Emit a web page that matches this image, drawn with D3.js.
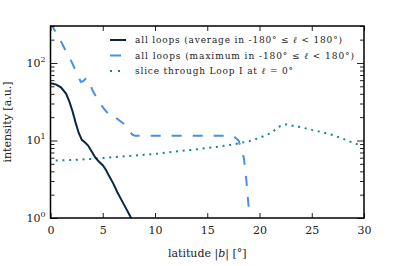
<!DOCTYPE html>
<html>
<head>
<meta charset="utf-8">
<script src="https://cdn.jsdelivr.net/npm/d3@7"></script>
<style>
  body { margin: 0; background: #fff; }
</style>
</head>
<body>
<div class="chart"></div>
<script>
// latitude |b| values and intensities
var avgB   = [0, 0.5, 1, 1.5, 1.8, 2.1, 2.4, 2.7, 3.0, 3.3, 3.6, 4.0, 4.3, 4.6, 5.0, 5.3, 5.6, 6.0, 6.4, 6.8, 7.2, 7.6, 8.0];
var avgVal = [54.7, 53, 48.6, 40, 32, 24, 17, 12.5, 10.2, 9.4, 8.6, 7.0, 6.0, 5.4, 4.8, 4.2, 3.5, 2.8, 2.15, 1.7, 1.35, 1.07, 0.8];

var maxB   = [0, 0.5, 1, 1.5, 2, 2.5, 2.9, 3.1, 3.4, 3.6, 4, 4.5, 5, 5.4, 5.7, 6, 6.5, 7, 7.5, 7.8, 8.1, 17.5, 18.0, 18.5, 18.75, 19.05, 19.2];
var maxVal = [330, 250, 190, 140, 105, 75, 57, 58, 63, 63, 45, 34, 27, 23, 23.5, 21, 18.5, 16.5, 14, 12, 11.5, 11.5, 10, 6, 3, 1.0, 0.8];

var sliceB   = [0.5, 2, 4, 6, 8, 10, 12, 14, 16, 17.5, 19, 20, 21, 21.5, 22, 22.6, 23.3, 24, 25, 26, 27, 28, 29, 29.7];
var sliceVal = [5.5, 5.6, 5.8, 6.1, 6.4, 6.7, 7.2, 7.7, 8.3, 8.9, 9.8, 10.8, 12.3, 13.7, 15.4, 16.2, 15.3, 14.8, 13.7, 12.8, 11.8, 10.5, 9.3, 8.6];

var xTicks = [0, 5, 10, 15, 20, 25, 30];
var yTicks = [1, 10, 100];

var legendLabels = [
  "all loops (average in -180\u00b0 \u2264 ", " < 180\u00b0)",
  "all loops (maximum in -180\u00b0 \u2264 ", " < 180\u00b0)",
  "slice through Loop I at ", " = 0\u00b0"
];

var svgWidth = 405, svgHeight = 266;
var margin = {top: 26, right: 41, bottom: 48, left: 50.5};
var width = svgWidth - margin.left - margin.right;
var height = svgHeight - margin.top - margin.bottom;
var font = "DejaVu Serif";

var svg = d3.select(".chart").append("svg")
    .attr("width", svgWidth)
    .attr("height", svgHeight)
    .attr("font-family", font);

var chart = svg.append("g")
    .attr("transform", "translate(" + margin.left + "," + margin.top + ")");

var x = d3.scaleLinear().domain([0, 30]).range([0, width]);
var y = d3.scaleLog().domain([1, 300]).range([height, 0]);

chart.append("clipPath").attr("id", "clip")
  .append("rect").attr("width", width).attr("height", height);

var line = d3.line()
    .x(function(d) { return x(d[0]); })
    .y(function(d) { return y(d[1]); });

function zip(a, b) {
  return a.map(function(v, i) { return [v, b[i]]; });
}

var plot = chart.append("g").attr("clip-path", "url(#clip)");

plot.append("path")
    .datum(zip(sliceB, sliceVal))
    .attr("fill", "none")
    .attr("stroke", "#128a86")
    .attr("stroke-width", 2)
    .attr("stroke-dasharray", "2,4.7")
    .attr("d", line);

plot.append("path")
    .datum(zip(maxB, maxVal))
    .attr("fill", "none")
    .attr("stroke", "#4a90e2")
    .attr("stroke-width", 2)
    .attr("stroke-dasharray", "10,11")
    .attr("d", line);

plot.append("path")
    .datum(zip(avgB, avgVal))
    .attr("fill", "none")
    .attr("stroke", "#0b2545")
    .attr("stroke-width", 2)
    .attr("d", line);

// minor log ticks
var minor = [];
[1, 10, 100].forEach(function(dec) {
  for (var k = 2; k <= 9; k++) if (dec * k <= 300) minor.push(dec * k);
});

// axes with inward ticks
var bottomAxis = d3.axisBottom(x).tickValues(xTicks).tickSizeInner(-5).tickSizeOuter(0).tickPadding(8);
var topAxis = d3.axisTop(x).tickValues(xTicks).tickSizeInner(-5).tickSizeOuter(0).tickFormat("");
var leftAxis = d3.axisLeft(y).tickValues(yTicks).tickSizeInner(-7).tickSizeOuter(0).tickFormat("");
var rightAxis = d3.axisRight(y).tickValues(yTicks).tickSizeInner(-7).tickSizeOuter(0).tickFormat("");
var leftMinor = d3.axisLeft(y).tickValues(minor).tickSizeInner(-4).tickSizeOuter(0).tickFormat("");
var rightMinor = d3.axisRight(y).tickValues(minor).tickSizeInner(-4).tickSizeOuter(0).tickFormat("");

chart.append("g").attr("class", "x-axis")
    .attr("transform", "translate(0," + height + ")").call(bottomAxis);
chart.append("g").call(topAxis);
chart.append("g").call(leftAxis);
chart.append("g").call(leftMinor);
chart.append("g").attr("transform", "translate(" + width + ",0)").call(rightAxis);
chart.append("g").attr("transform", "translate(" + width + ",0)").call(rightMinor);

chart.selectAll(".domain").remove();
chart.selectAll("g").attr("font-family", font);
chart.selectAll(".tick line").attr("stroke", "#222").attr("stroke-width", 1);
chart.selectAll(".x-axis .tick text")
    .attr("fill", "#222")
    .attr("font-size", 11);

chart.append("rect")
    .attr("width", width).attr("height", height)
    .attr("fill", "none").attr("stroke", "#000").attr("stroke-width", 1.5);

// y tick labels as 10^n
yTicks.forEach(function(v) {
  var t = chart.append("text")
      .attr("x", -5)
      .attr("y", y(v) + 4)
      .attr("text-anchor", "end")
      .attr("fill", "#222")
      .attr("font-size", 11);
  t.append("tspan").text("10");
  t.append("tspan").attr("dy", -5).attr("font-size", 8).text(Math.round(Math.log10(v)));
});

// axis titles
svg.append("text")
    .attr("transform", "translate(11," + (margin.top + height / 2) + ") rotate(-90)")
    .attr("text-anchor", "middle")
    .attr("fill", "#222")
    .attr("font-size", 11)
    .text("intensity [a.u.]");

var xt = svg.append("text")
    .attr("x", margin.left + width / 2)
    .attr("y", 257)
    .attr("text-anchor", "middle")
    .attr("fill", "#222")
    .attr("font-size", 11);
xt.append("tspan").text("latitude |");
xt.append("tspan").attr("font-style", "italic").text("b");
xt.append("tspan").text("| [\u00b0]");

// legend
var legendStyles = [
  {color: "#0b2545", dash: null, len: 207},
  {color: "#4a90e2", dash: "11,20", len: 219},
  {color: "#128a86", dash: "2,6", len: 158}
];
var legendY = [40, 55.5, 71];
legendStyles.forEach(function(s, i) {
  var ly = legendY[i];
  svg.append("line")
      .attr("x1", 110).attr("x2", 126).attr("y1", ly).attr("y2", ly)
      .attr("stroke", s.color).attr("stroke-width", 2)
      .attr("stroke-dasharray", s.dash);
  var t = svg.append("text")
      .attr("x", 135).attr("y", ly + 3)
      .attr("fill", "#222")
      .attr("textLength", s.len)
      .attr("lengthAdjust", "spacing")
      .attr("font-size", 9);
  t.append("tspan").text(legendLabels[i * 2]);
  t.append("tspan").attr("font-style", "italic").attr("font-weight", "bold").text("\u2113");
  t.append("tspan").text(legendLabels[i * 2 + 1]);
});
</script>
</body>
</html>
